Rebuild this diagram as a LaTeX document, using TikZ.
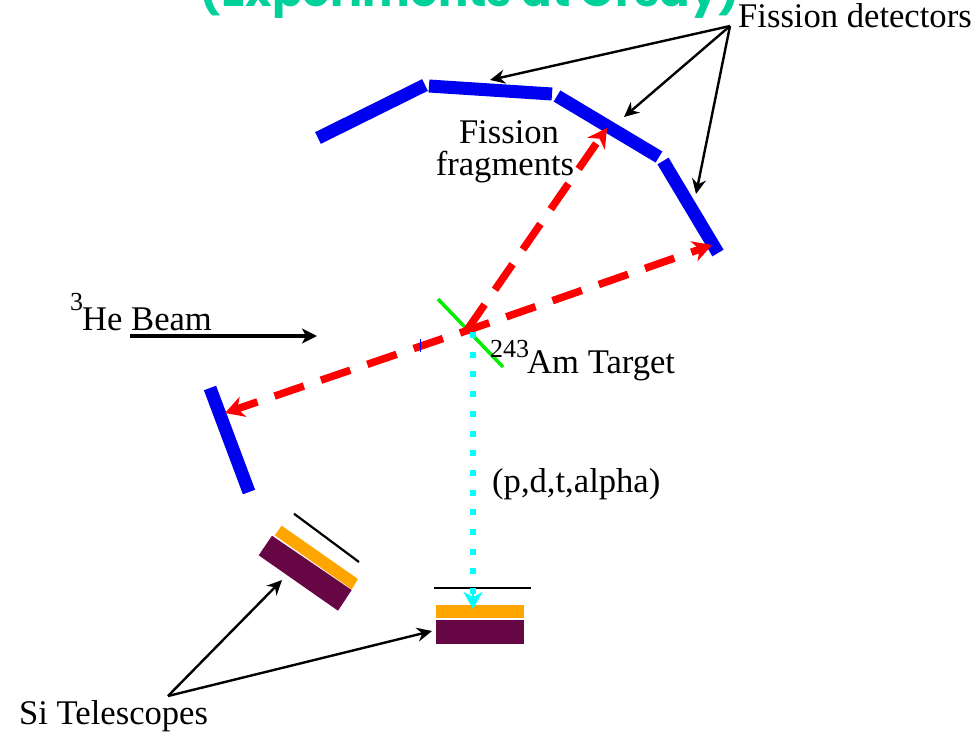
\documentclass[tikz,border=0pt]{standalone}
\usepackage{fontspec}
\setmainfont{Liberation Serif}
\newfontfamily\titlefont{Poppins}
\usetikzlibrary{arrows.meta}
\definecolor{titleteal}{HTML}{00D09A}
\definecolor{detblue}{HTML}{0000F0}
\definecolor{siorange}{HTML}{FFA500}
\definecolor{sipurple}{HTML}{660645}
\definecolor{tgtgreen}{HTML}{00EE00}
\definecolor{ejcyan}{HTML}{00FFFF}
\definecolor{fragred}{HTML}{FF0000}
\tikzset{
  lbl/.style={inner sep=0pt,font=\fontsize{34.6}{34.6}\selectfont,text=black},
  sup/.style={inner sep=0pt,font=\fontsize{26}{26}\selectfont,text=black},
  detector/.style={draw=detblue,line width=13pt},
  fragment/.style={draw=fragred,line width=7.5pt,dash pattern=on 31pt off 18pt,-{Stealth[length=19pt,width=21pt,inset=6pt]}},
  pointer/.style={draw=black,line width=2.4pt,-{Stealth[length=15pt,width=14pt,inset=5pt]}},
  ejectile/.style={draw=ejcyan,line width=6pt,dash pattern=on 6pt off 13.7pt},
  foil/.style={draw=black,line width=2.2pt}
}
\begin{document}
\begin{tikzpicture}[x=1pt,y=-1pt]
\useasboundingbox (0,0) rectangle (972,732);
\clip (0,0) rectangle (972,732);
\node[anchor=base,inner sep=0pt,text=titleteal] (title) at (470,6) {\fontsize{45}{45}\selectfont\titlefont\bfseries (Experiments at Orsay)};

% named points
\coordinate (centre) at (467,330);
\coordinate (rstart) at (460,333);
\coordinate (lstart) at (443,338.5);
\coordinate (hitA) at (607,128);
\coordinate (hitB) at (712,245);
\coordinate (hitC) at (225,413);
\coordinate (apexF) at (730,26);
\coordinate (apexS) at (168,696);

% detectors
\draw[detector] (318,138) -- (425,85);
\draw[detector] (429,86) -- (552,94);
\draw[detector] (557,96) -- (659,157);
\draw[detector] (663,161) -- (718,253);
\draw[detector] (210,388) -- (249,492);

% target
\draw[draw=tgtgreen,line width=3.5pt] (438,299) -- (503,367);

% telescopes
\fill[siorange] (281.7,525.7) -- (358,579) -- (351.7,589.3) -- (274.7,535.3) -- cycle;
\fill[sipurple] (272,535.7) -- (351.7,590) -- (338,610.7) -- (258.7,555.3) -- cycle;
\draw[foil] (294,513.7) -- (359,562);
\fill[siorange] (436,605) rectangle (524,617.5);
\fill[sipurple] (436,620) rectangle (524,644);
\draw[foil] (434,588) -- (531,588);

% fragments
\draw[fragment] (centre) -- (hitA);
\draw[fragment] (rstart) -- (hitB);
\draw[fragment] (lstart) -- (hitC);
\draw[draw=blue,line width=1pt] (420,339) -- (420,352);

% ejectile
\draw[ejectile] (473,332) -- (473,596);
\draw[draw=ejcyan,line width=2.5pt,-{Stealth[length=17pt,width=19pt,inset=5pt]}] (473,592) -- (473,609);

% beam
\draw[draw=black,line width=4pt,-{Stealth[length=15pt,width=15pt,inset=4pt]}] (130,336) -- (317,336);

% pointers
\draw[pointer] (apexF) -- (490,80);
\draw[pointer] (apexF) -- (624,117);
\draw[pointer] (apexF) -- (696,194);
\draw[pointer] (apexS) -- (282,580);
\draw[pointer] (apexS) -- (432,631);

% labels
\node[lbl,anchor=base west] (fd) at (738,27) {Fission detectors};
\node[lbl,anchor=base] (ff1) at (509,143) {Fission};
\node[lbl,anchor=base] (ff2) at (505,175) {fragments};
\node[sup,anchor=base west] (he3) at (70,310) {3};
\node[lbl,anchor=base west] (he) at (82,330) {He Beam};
\node[sup,anchor=base west] (am) at (490,357) {243};
\node[lbl,anchor=base west] (tgt) at (527,373) {Am Target};
\node[lbl,anchor=base west] (pdt) at (492,492) {(p,d,t,alpha)};
\node[lbl,anchor=base west] (si) at (19,724) {Si Telescopes};
\end{tikzpicture}
\end{document}
